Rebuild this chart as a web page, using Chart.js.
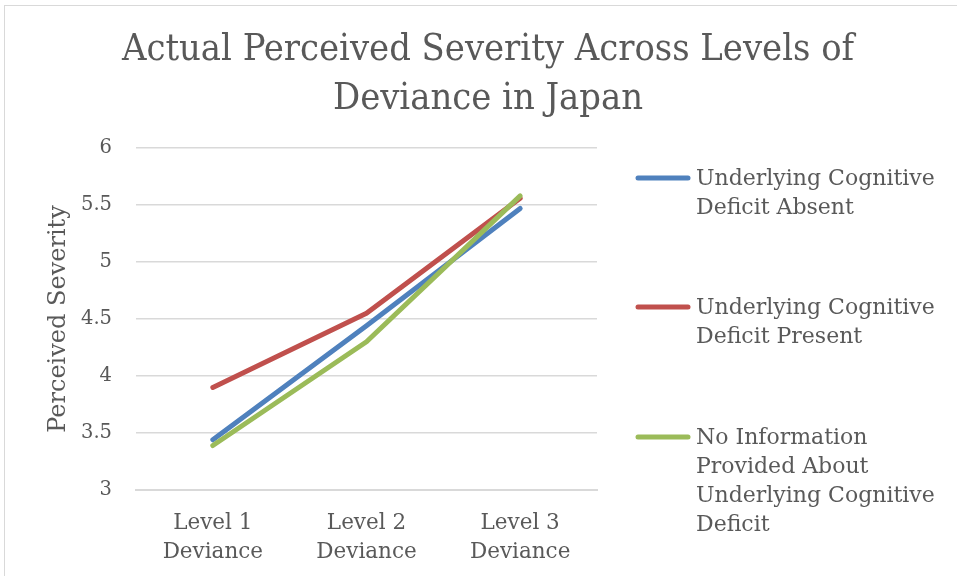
<!DOCTYPE html>
<html>
<head>
<meta charset="utf-8">
<script src="https://cdn.jsdelivr.net/npm/chart.js@4.4.0/dist/chart.umd.min.js"></script>
<style>
    body { margin: 0; background: #fff; }
    .chart-container { position: relative; width: 957px; height: 576px; }
    .frame { position: absolute; left: 4px; top: 5px; right: 0; bottom: 0; border-left: 1px solid #d9d9d9; border-top: 1px solid #d9d9d9; pointer-events: none; }
</style>
</head>
<body>
<div class="chart-container">
    <canvas id="myChart" width="957" height="576"></canvas>
    <div class="frame"></div>
</div>
<script>
var titleLines = ['Actual Perceived Severity Across Levels of', 'Deviance in Japan'];
var levels = [['Level 1', 'Deviance'], ['Level 2', 'Deviance'], ['Level 3', 'Deviance']];
var seriesNames = [
    ['Underlying Cognitive', 'Deficit Absent'],
    ['Underlying Cognitive', 'Deficit Present'],
    ['No Information', 'Provided About', 'Underlying Cognitive', 'Deficit']
];
var deficitAbsent = [3.44, 4.44, 5.47];
var deficitPresent = [3.90, 4.55, 5.56];
var noInformation = [3.39, 4.30, 5.58];
var seriesColors = ['#4f81bd', '#c0504d', '#9bbb59'];

var serif = "'DejaVu Serif', 'Liberation Serif', serif";
var serifNarrow = "'DejaVu Serif Condensed', 'DejaVu Serif', 'Liberation Serif', serif";
var textColor = '#595959';

// titre + legende dessines a la main pour garder la mise en page
var decorPlugin = {
    id: 'decor',
    afterDraw: function (chart) {
        var c = chart.ctx;
        c.save();
        c.fillStyle = textColor;
        c.textAlign = 'center';
        c.textBaseline = 'middle';
        c.font = '37.7px ' + serifNarrow;
        titleLines.forEach(function (line, i) {
            c.fillText(line, 488, 50 + i * 49);
        });

        c.font = '22px ' + serif;
        c.textAlign = 'left';
        var itemTops = [179, 308, 438];
        chart.data.datasets.forEach(function (ds, i) {
            var y = itemTops[i];
            c.strokeStyle = ds.borderColor;
            c.lineWidth = 5;
            c.lineCap = 'round';
            c.beginPath();
            c.moveTo(638, y - 1);
            c.lineTo(688, y - 1);
            c.stroke();
            seriesNames[i].forEach(function (t, j) {
                c.fillText(t, 696, y + j * 29);
            });
        });
        c.restore();
    }
};

var ctx = document.getElementById('myChart');
new Chart(ctx, {
    type: 'line',
    data: {
        labels: levels,
        datasets: [
            { label: seriesNames[0].join(' '), data: deficitAbsent, borderColor: seriesColors[0], order: 3 },
            { label: seriesNames[1].join(' '), data: deficitPresent, borderColor: seriesColors[1], order: 2 },
            { label: seriesNames[2].join(' '), data: noInformation, borderColor: seriesColors[2], order: 1 }
        ]
    },
    options: {
        responsive: false,
        animation: false,
        elements: {
            line: { borderWidth: 5, borderCapStyle: 'round', borderJoinStyle: 'round', tension: 0 },
            point: { radius: 0, hoverRadius: 0 }
        },
        layout: { padding: { left: 4, right: 360, top: 148, bottom: 11 } },
        plugins: {
            legend: { display: false },
            title: { display: false },
            tooltip: { enabled: false }
        },
        scales: {
            x: {
                offset: true,
                grid: { display: false, drawTicks: false },
                border: { color: '#d9d9d9', width: 2 },
                ticks: {
                    color: textColor,
                    padding: 19,
                    maxRotation: 0,
                    autoSkip: false,
                    font: { family: serif, size: 21.5, lineHeight: 1.35 }
                },
                afterFit: function (scale) { scale.height = 75; }
            },
            y: {
                min: 3,
                max: 6,
                grid: { color: '#d9d9d9', lineWidth: 1.5, drawTicks: false },
                border: { display: false },
                ticks: {
                    stepSize: 0.5,
                    color: textColor,
                    padding: 24,
                    font: { family: serif, size: 19.5 },
                    callback: function (value) { return String(value); }
                },
                title: {
                    display: true,
                    text: 'Perceived Severity',
                    color: textColor,
                    padding: { top: 40, bottom: 0 },
                    font: { family: serif, size: 24 }
                },
                afterFit: function (scale) { scale.width = 132; }
            }
        }
    },
    plugins: [decorPlugin]
});
</script>
</body>
</html>
